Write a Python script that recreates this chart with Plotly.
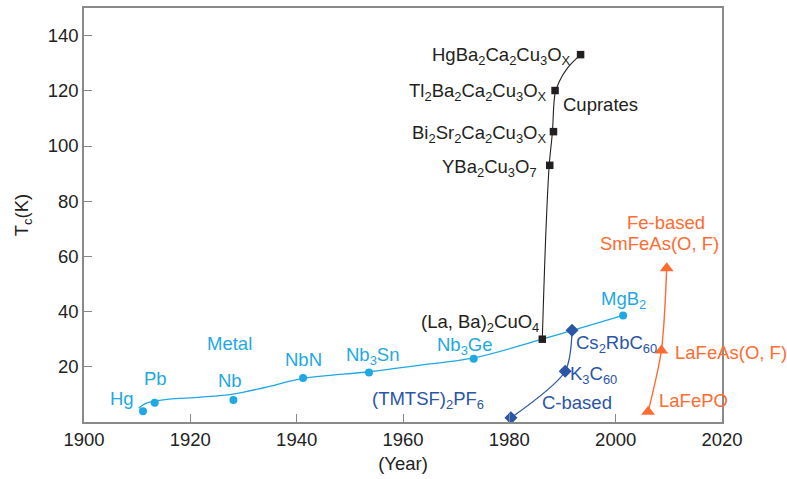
import plotly.graph_objects as go

# ---------------- data ----------------
metal_names = ["Hg", "Pb", "Nb", "NbN", "Nb3Sn", "Nb3Ge", "MgB2"]
metal_year = [1911.1, 1913.3, 1928.1, 1941.2, 1953.6, 1973.3, 2001.4]
metal_tc = [3.9, 7.0, 8.0, 15.9, 17.9, 22.9, 38.6]
metal_trend_year = [1910.3, 1911.2, 1912.2, 1913.3, 1916, 1922, 1928, 1934, 1941.2,
                    1953.6, 1963, 1973.3, 1986.2, 2001.4]
metal_trend_tc = [5.0, 6.3, 7.1, 7.6, 8.3, 9.0, 10.1, 12.5, 15.8,
                  18.2, 20.5, 23.2, 30.0, 38.6]

cuprate_names = ["(La, Ba)2CuO4", "YBa2Cu3O7", "Bi2Sr2Ca2Cu3Ox", "Tl2Ba2Ca2Cu3Ox", "HgBa2Ca2Cu3Ox"]
cuprate_year = [1986.2, 1987.6, 1988.3, 1988.6, 1993.4]
cuprate_tc = [30.0, 93.0, 105.2, 120.1, 133.1]
cuprate_trend_year = [1986.2, 1986.9, 1987.5, 1988.1, 1988.6, 1989.4, 1991.0, 1993.4]
cuprate_trend_tc = [30.0, 70.0, 93.0, 105.0, 119.0, 123.4, 128.4, 133.1]

carbon_names = ["(TMTSF)2PF6", "K3C60", "Cs2RbC60"]
carbon_year = [1980.3, 1990.5, 1991.8]
carbon_tc = [1.5, 18.4, 33.2]

iron_names = ["LaFePO", "LaFeAs(O, F)", "SmFeAs(O, F)"]
iron_year = [2006.1, 2008.6, 2009.6]
iron_tc = [3.7, 25.9, 55.7]

x_ticks = [1900, 1920, 1940, 1960, 1980, 2000, 2020]
y_ticks = [20, 40, 60, 80, 100, 120, 140]

# ---------------- style ----------------
C_METAL = "#1ea8e4"
C_CUP = "#231f20"
C_CARB = "#2b55a6"
C_FE = "#ff6b30"
FONT = "Arial, Liberation Sans, Helvetica, sans-serif"
FS = 18.5

fig = go.Figure()

fig.add_trace(go.Scatter(x=metal_trend_year, y=metal_trend_tc, mode="lines",
                         line=dict(color=C_METAL, width=1.3, shape="spline", smoothing=1.0),
                         hoverinfo="skip"))
fig.add_trace(go.Scatter(x=metal_year, y=metal_tc, mode="markers", text=metal_names,
                         marker=dict(color=C_METAL, size=8, symbol="circle")))

fig.add_trace(go.Scatter(x=cuprate_trend_year, y=cuprate_trend_tc, mode="lines",
                         line=dict(color=C_CUP, width=1.1, shape="spline", smoothing=1.0),
                         hoverinfo="skip"))
fig.add_trace(go.Scatter(x=cuprate_year, y=cuprate_tc, mode="markers", text=cuprate_names,
                         marker=dict(color=C_CUP, size=7.5, symbol="square")))

fig.add_trace(go.Scatter(x=carbon_year, y=carbon_tc, mode="lines+markers", text=carbon_names,
                         line=dict(color=C_CARB, width=1.2, shape="spline", smoothing=0.8),
                         marker=dict(color=C_CARB, size=10, symbol="diamond")))

fig.add_trace(go.Scatter(x=iron_year, y=iron_tc, mode="lines+markers", text=iron_names,
                         line=dict(color=C_FE, width=1.4, shape="spline", smoothing=0.8),
                         marker=dict(color=C_FE, size=12, symbol="triangle-up")))

# ---------------- labels ----------------
labels = [
    # text, x, y, xanchor, color
    ("Hg", 1907.1, 8.4, "center", C_METAL),
    ("Pb", 1913.4, 15.6, "center", C_METAL),
    ("Nb", 1927.5, 15.1, "center", C_METAL),
    ("Metal", 1927.3, 28.5, "center", C_METAL),
    ("NbN", 1941.2, 22.7, "center", C_METAL),
    ("Nb<sub>3</sub>Sn", 1954.4, 24.0, "center", C_METAL),
    ("Nb<sub>3</sub>Ge", 1971.7, 27.6, "center", C_METAL),
    ("MgB<sub>2</sub>", 2001.4, 44.2, "center", C_METAL),
    ("(La, Ba)<sub>2</sub>CuO<sub>4</sub>", 1986.0, 36.0, "right", C_CUP),
    ("YBa<sub>2</sub>Cu<sub>3</sub>O<sub>7</sub>", 1985.5, 92.2, "right", C_CUP),
    ("Bi<sub>2</sub>Sr<sub>2</sub>Ca<sub>2</sub>Cu<sub>3</sub>O<sub>X</sub>", 1987.2, 104.4, "right", C_CUP),
    ("Tl<sub>2</sub>Ba<sub>2</sub>Ca<sub>2</sub>Cu<sub>3</sub>O<sub>X</sub>", 1987.4, 119.5, "right", C_CUP),
    ("HgBa<sub>2</sub>Ca<sub>2</sub>Cu<sub>3</sub>O<sub>X</sub>", 1992.0, 132.6, "right", C_CUP),
    ("Cuprates", 1997.1, 115.0, "center", C_CUP),
    ("(TMTSF)<sub>2</sub>PF<sub>6</sub>", 1964.7, 7.9, "center", C_CARB),
    ("K<sub>3</sub>C<sub>60</sub>", 1991.0, 17.0, "left", C_CARB),
    ("Cs<sub>2</sub>RbC<sub>60</sub>", 1992.2, 28.2, "left", C_CARB),
    ("C-based", 1992.7, 6.9, "center", C_CARB),
    ("LaFePO", 2014.7, 7.9, "center", C_FE),
    ("LaFeAs(O, F)", 2010.8, 25.3, "left", C_FE),
    ("SmFeAs(O, F)", 2008.3, 64.5, "center", C_FE),
    ("Fe-based", 2009.5, 72.2, "center", C_FE),
]
for text, x, y, xa, col in labels:
    fig.add_annotation(x=x, y=y, text=text, showarrow=False, xanchor=xa, yanchor="middle",
                       font=dict(family=FONT, size=FS, color=col))

axis_common = dict(showgrid=False, zeroline=False, showline=True, linecolor="#8a8a8a",
                   linewidth=1.5, mirror=True, ticks="inside", ticklen=8, tickwidth=1.2,
                   tickcolor="#8a8a8a", tickfont=dict(family=FONT, size=FS, color="#222222"))

fig.update_layout(
    width=787, height=479,
    margin=dict(l=84, r=65, t=6, b=57),
    paper_bgcolor="white", plot_bgcolor="white",
    showlegend=False,
    xaxis=dict(range=[1900, 2020], tickvals=x_ticks,
               title=dict(text="(Year)", font=dict(family=FONT, size=FS, color="#222222"), standoff=8),
               **axis_common),
    yaxis=dict(range=[0, 150], tickvals=y_ticks,
               title=dict(text="T<sub>c</sub>(K)", font=dict(family=FONT, size=FS, color="#222222"), standoff=14),
               **axis_common),
)

fig.write_html("out.html", config={"displayModeBar": False},
               post_script="document.body.style.margin='0px';document.body.style.overflow='hidden';")
